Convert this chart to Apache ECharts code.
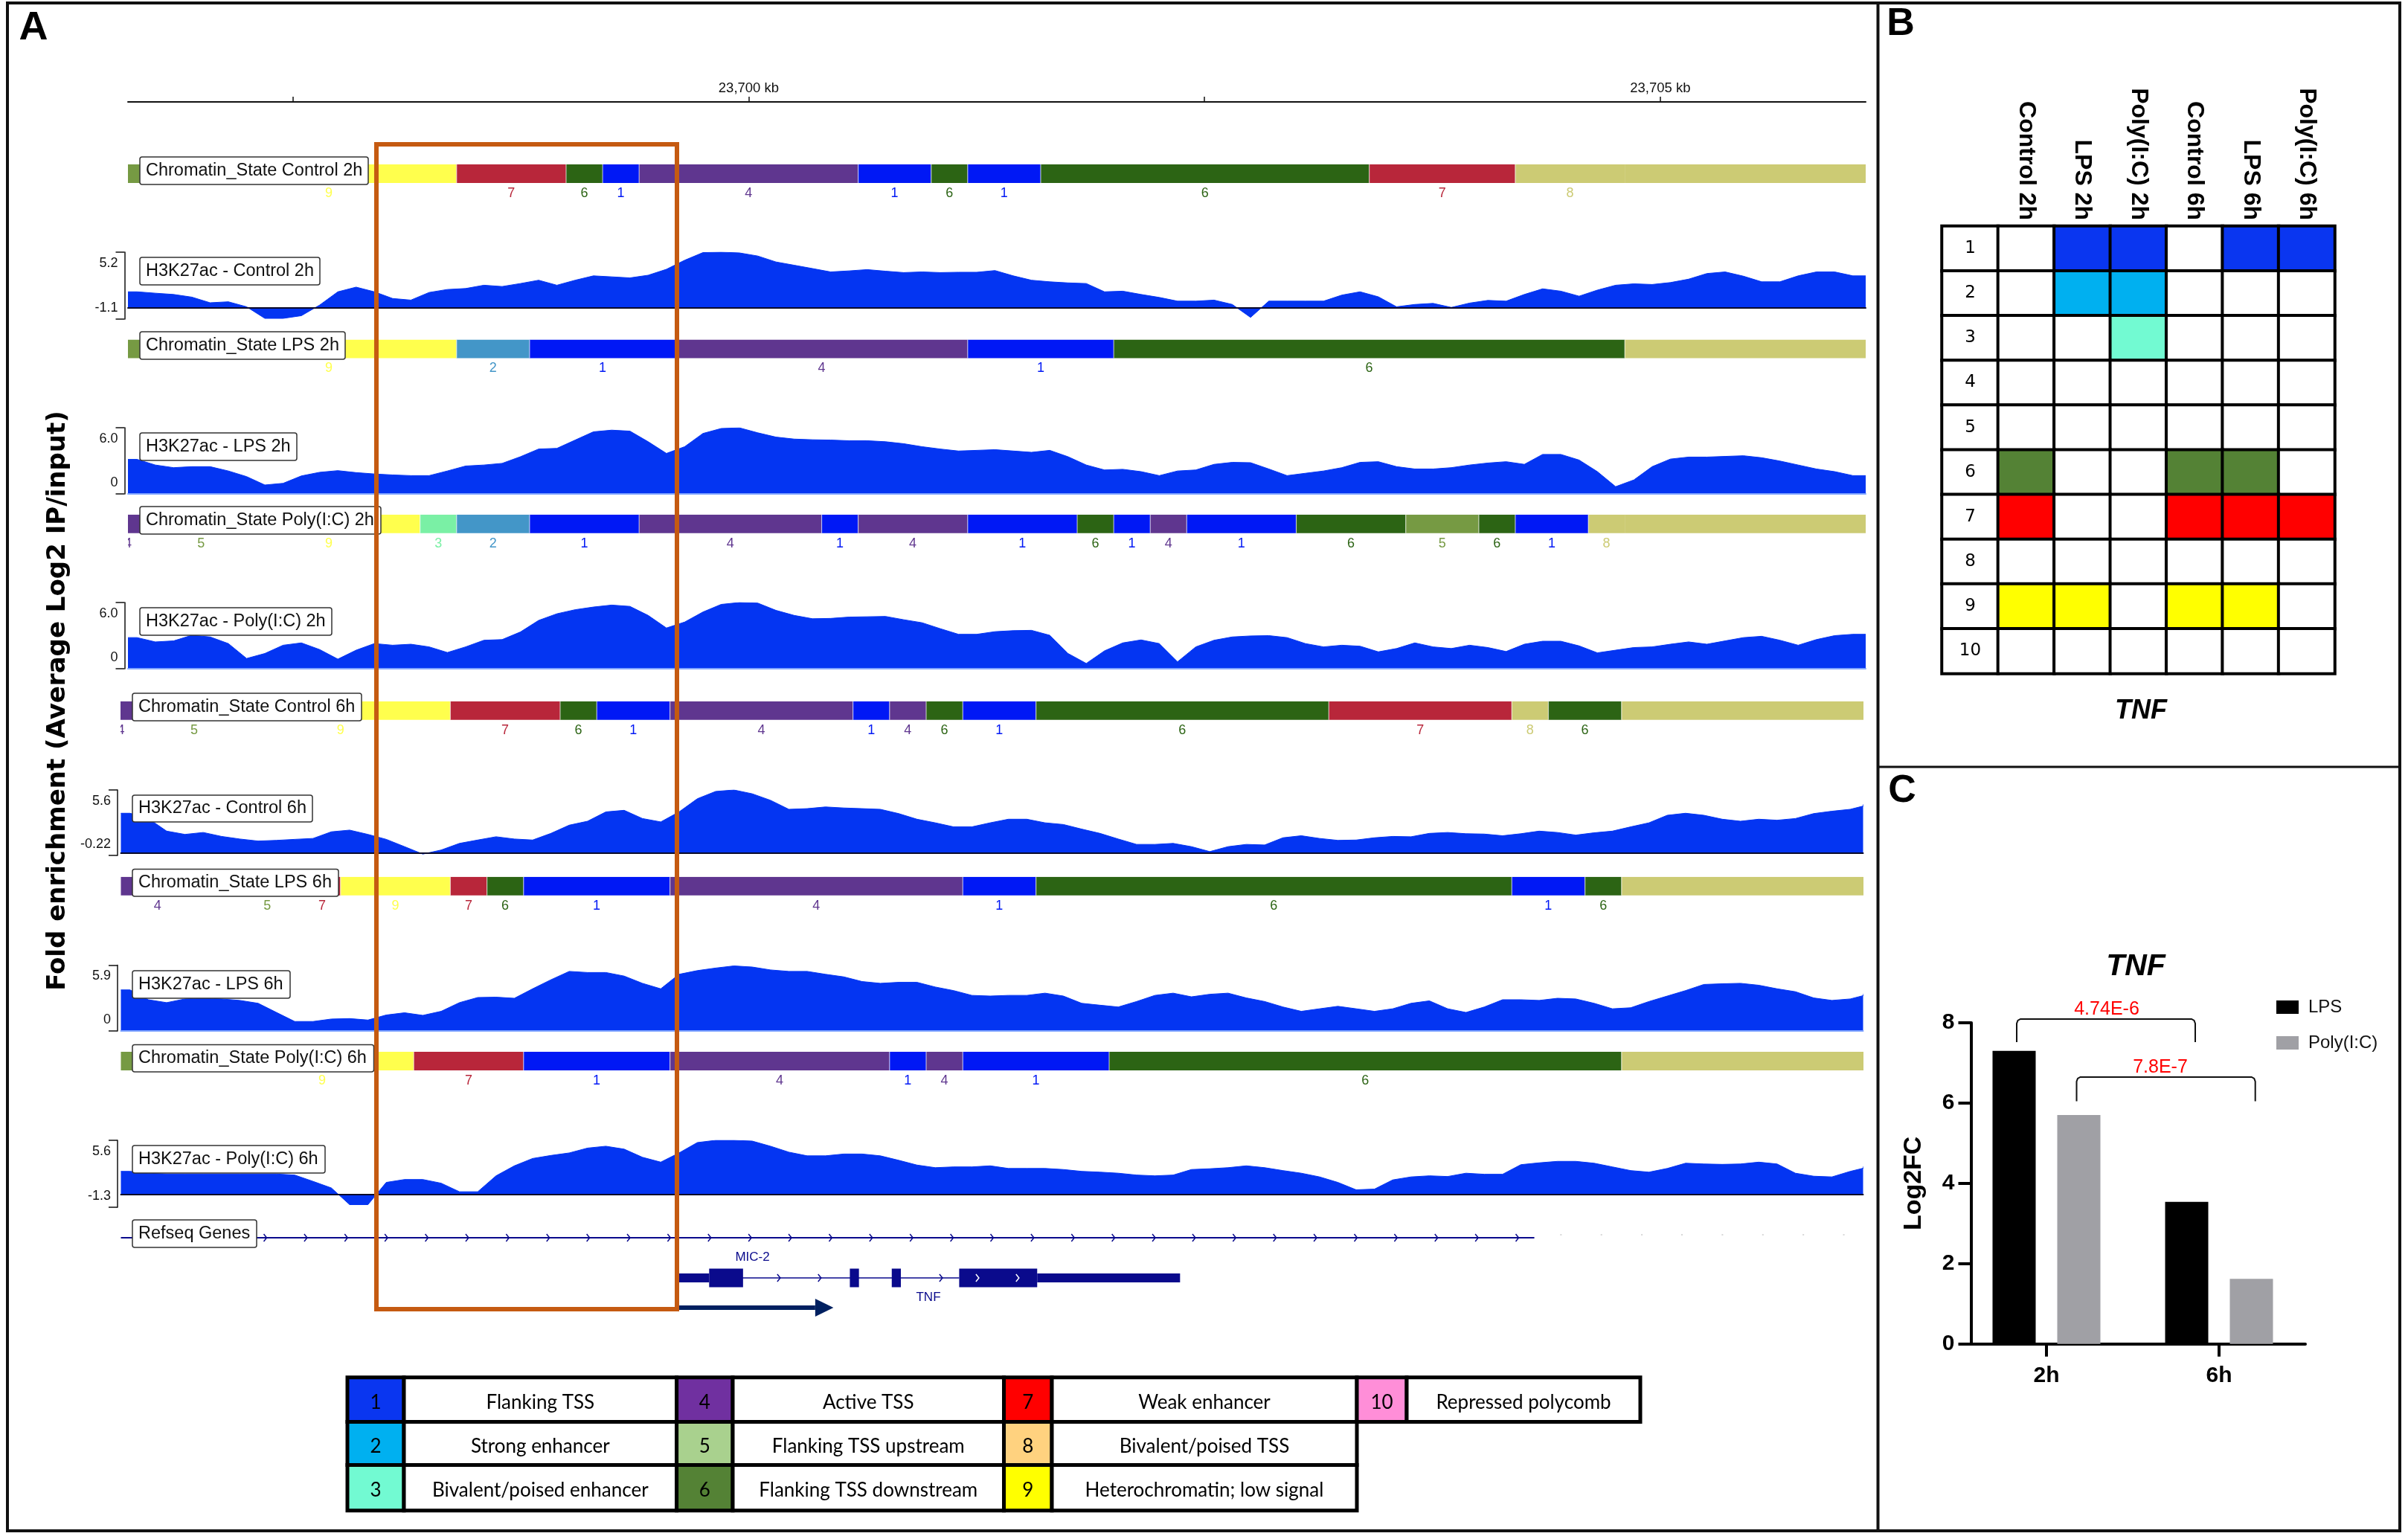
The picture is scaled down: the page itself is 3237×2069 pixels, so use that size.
<!DOCTYPE html>
<html>
<head>
<meta charset="utf-8">
<title>TNF chromatin states</title>
<script src="https://cdn.jsdelivr.net/npm/echarts@6/dist/echarts.min.js"></script>
<style>
html, body { margin: 0; padding: 0; background: #fff; }
#main { width: 3237px; height: 2069px; }
</style>
</head>
<body>
<div id="main"></div>
<script>
// chromatin state segments: [state, start bin, end bin, has label]   (bin = 200 bp)
var stateControl2h = [[5,0,2,0],[9,2,9,1],[7,9,12,1],[6,12,13,1],[1,13,14,1],[4,14,20,1],[1,20,22,1],[6,22,23,1],[1,23,25,1],[6,25,34,1],[7,34,38,1],[8,38,41,1],[8,41,48,0]];
var stateLps2h = [[5,0,2,0],[9,2,9,1],[2,9,11,1],[1,11,15,1],[4,15,23,1],[1,23,27,1],[6,27,41,1],[8,41,48,0]];
var statePoly2h = [[4,-1,1,1],[5,1,3,1],[9,3,8,1],[3,8,9,1],[2,9,11,1],[1,11,14,1],[4,14,19,1],[1,19,20,1],[4,20,23,1],[1,23,26,1],[6,26,27,1],[1,27,28,1],[4,28,29,1],[1,29,32,1],[6,32,35,1],[5,35,37,1],[6,37,38,1],[1,38,40,1],[8,40,41,1],[8,41,48,0]];
var stateControl6h = [[4,-1,1,1],[5,1,3,1],[9,3,9,1],[7,9,12,1],[6,12,13,1],[1,13,15,1],[4,15,20,1],[1,20,21,1],[4,21,22,1],[6,22,23,1],[1,23,25,1],[6,25,33,1],[7,33,38,1],[8,38,39,1],[6,39,41,1],[8,41,48,0]];
var stateLps6h = [[4,0,2,1],[4,2,3,0],[5,3,5,1],[7,5,6,1],[9,6,9,1],[7,9,10,1],[6,10,11,1],[1,11,15,1],[4,15,23,1],[1,23,25,1],[6,25,38,1],[1,38,40,1],[6,40,41,1],[8,41,48,0]];
var statePoly6h = [[5,0,3,0],[9,3,8,1],[7,8,11,1],[1,11,15,1],[4,15,21,1],[1,21,22,1],[4,22,23,1],[1,23,27,1],[6,27,41,1],[8,41,48,0]];

// H3K27ac signal, one value per 100 bp
var signalControl2h = [1.47,1.34,1.22,.97,.44,.53,.06,-1.03,-1.03,-.78,.22,1.47,1.91,1.47,.84,.69,1.41,1.69,1.78,2.09,1.97,2.25,2.56,2.09,2.56,2.97,2.88,2.78,3.03,3.59,4.44,5.16,5.2,5.13,4.84,4.28,3.97,3.66,3.34,3.44,3.56,3.41,3.28,3.34,3.28,3.31,3.31,3.47,2.97,2.56,2.41,2.31,2.25,1.47,1.53,1.22,.94,.59,.59,.69,.28,-.94,.59,.59,.59,.59,1.16,1.47,1,.06,.28,.38,0,.41,.66,.59,1.22,1.75,1.53,1.06,1.63,2.09,2.22,2.16,2.34,2.66,3.19,3.34,2.94,2.41,2.41,2.97,3.34,3.34,2.97];
var signalLps2h = [3.13,2.62,2.38,2.47,2.47,2.08,1.57,.81,.96,1.63,1.96,2.11,1.93,1.81,1.72,1.66,1.66,2.08,2.53,2.62,2.77,3.37,4.07,4.13,4.88,5.63,5.78,5.69,4.73,3.67,4.28,5.48,5.93,5.99,5.54,5.15,4.97,4.91,4.88,4.82,4.82,4.73,4.55,4.28,4.07,3.89,3.95,4.01,3.89,3.77,3.95,3.37,2.62,2.17,2.23,2.02,1.66,2.08,2.17,2.68,2.86,2.83,2.26,1.66,1.87,2.08,2.38,2.86,2.92,2.47,2.26,2.26,2.38,2.62,2.8,2.92,2.68,3.58,3.58,3.07,2.02,.66,1.27,2.47,3.16,3.34,3.34,3.4,3.46,3.28,2.98,2.62,2.26,2.02,1.66];
var signalPoly2h = [2.82,2.43,2.52,3.03,2.88,2.28,.93,1.38,2.13,2.34,1.74,.87,1.68,2.28,2.13,2.22,1.98,1.47,1.98,2.58,2.64,3.33,4.38,4.98,5.35,5.59,5.77,5.65,4.83,3.69,4.23,5.14,5.83,6,5.95,5.29,4.83,4.53,4.56,4.68,4.71,4.74,4.44,4.17,3.63,3.12,3.12,3.36,3.45,3.48,3.03,1.38,.48,1.62,2.34,2.61,2.28,.63,1.98,2.58,2.88,2.97,3,2.82,2.28,1.98,2.13,2.04,1.53,1.83,2.34,1.98,1.83,2.13,1.92,1.56,2.22,2.49,2.49,2.07,1.44,1.68,1.92,1.98,2.22,2.43,2.22,2.52,2.82,2.94,2.58,2.13,2.64,3,3.12];
var signalControl6h = [3.53,3.06,1.94,1.65,1.82,1.47,1.24,1.06,1.12,1.21,1.29,1.88,2.03,1.65,1.21,.56,-.1,.26,.85,1.15,1.44,1.24,1.15,1.74,2.47,2.82,3.65,3.79,3.06,2.76,3.65,4.82,5.47,5.6,5.26,4.68,3.88,3.94,4.09,4,3.94,3.88,3.5,3,2.68,2.32,2.32,2.68,3,3,2.68,2.53,2.12,1.74,1.24,.76,.76,.85,.56,.12,.56,.76,.71,1.35,1.53,1.29,1.12,1.15,1.35,1.47,1.44,1.74,1.82,1.71,1.68,1.53,1.71,1.94,1.82,1.59,1.79,1.94,2.32,2.68,3.35,3.53,3.35,3,2.82,3,2.91,3.06,3.5,3.71,3.88,4.29];
var signalLps6h = [3.68,2.8,2.54,2.87,2.96,2.87,2.74,2.48,1.66,.85,.85,1.07,1.11,.98,1.43,1.63,1.4,1.76,2.54,3,3.03,2.93,3.78,4.59,5.34,5.24,5.24,4.92,4.27,3.78,5.08,5.41,5.64,5.83,5.73,5.47,5.34,5.34,5.08,4.85,4.43,4.27,4.36,4.36,3.94,3.62,3.19,3.13,3.19,3.19,3.39,3.13,2.48,2.31,2.15,2.64,3.19,3.39,3.06,3.29,3.39,2.96,2.64,2.15,1.76,1.99,2.21,1.99,1.76,1.99,2.48,2.7,1.99,1.66,2.15,2.8,2.8,2.74,2.93,2.87,2.48,1.99,2.08,2.64,3.13,3.62,4.17,4.23,4.27,4.1,3.78,3.52,2.96,2.74,2.87,3.29];
var signalPoly6h = [2.4,2.21,2.13,2.13,2.13,2.13,2.13,2.13,2.13,2.02,1.37,.69,-1.03,-1.03,1.26,1.56,1.56,1.18,.3,.3,1.94,2.97,3.73,4.04,4.3,4.8,4.99,4.69,3.85,3.35,4.3,5.37,5.6,5.6,5.52,4.99,4.38,4,4,4.19,4.19,4,3.54,3.05,2.78,2.86,2.86,2.97,2.7,2.7,2.7,2.59,2.4,2.32,2.21,2.02,1.94,2.02,2.59,2.67,2.78,2.97,2.78,2.48,2.21,1.83,1.26,.5,.57,1.52,1.83,1.94,1.87,2.21,2.1,2.1,3.09,3.28,3.43,3.43,3.24,2.86,2.48,2.32,2.7,3.24,3.16,3.12,3.16,3.35,3.16,2.21,1.9,1.83,2.4,2.86];

var rulerTicks = [23697.5, 23700, 23702.5, 23705];

// gene models, in bins
var mic2Thin = [[15.3,16.14],[25.14,29.06]];
var mic2Thick = [[16.14,17.07],[20,20.25],[21.15,21.4],[23,25.14]];
var mic2Arrows = [18.05,19.17,22.5];
var mic2ExonArrows = [23.5,24.6];
var refseqEnd = 38.78;
var refseqArrows = [3.96,5.07,6.18,7.28,8.39,9.5,10.61,11.72,12.82,13.93,15.04,16.15,17.26,18.36,19.47,20.58,21.69,22.8,23.9,25.01,26.12,27.23,28.34,29.44,30.55,31.66,32.77,33.88,34.98,36.09,37.2,38.31];
var refseqFaint = [39.49,40.6,41.71,42.81,43.92,45.03,46.14,47.25];

// legend
var legendNames = ['Flanking TSS','Strong enhancer','Bivalent/poised enhancer','Active TSS','Flanking TSS upstream','Flanking TSS downstream','Weak enhancer','Bivalent/poised TSS','Heterochromatin; low signal','Repressed polycomb'];

// panel B
var heatSamples = ['Control 2h','LPS 2h','Poly(I:C) 2h','Control 6h','LPS 6h','Poly(I:C) 6h'];
var heatRows = ['1','2','3','4','5','6','7','8','9','10'];
var heatControl2h = [6,7,9];
var heatLps2h = [1,2,9];
var heatPoly2h = [1,2,3];
var heatControl6h = [6,7,9];
var heatLps6h = [1,6,7,9];
var heatPoly6h = [1,7];

// panel C
var barCategories = ['2h','6h'];
var barLps = [7.3,3.54];
var barPoly = [5.7,1.62];

var trackColors = {1:'#0018f5',2:'#4396c8',3:'#7af0a5',4:'#5f368f',5:'#769a43',6:'#2c6414',7:'#b8263a',8:'#cccb74',9:'#ffff4d'};
var legendColors = {1:'#0a36f0',2:'#00b0f0',3:'#72fad2',4:'#7030a0',5:'#a9d18e',6:'#548235',7:'#ff0000',8:'#ffd27f',9:'#ffff00',10:'#ff8ed8'};
var SIGNAL = '#0435f2';
var ARIAL = '"Liberation Sans", Arial, sans-serif';
var NAVY = '#0a0a8c';
var MAX_BIN = 47.6;

var grids = [], xAxes = [], yAxes = [], seriesList = [], shapes = [];

function addGrid(grid, xAxis, yAxis) {
    var i = grids.length;
    grids.push(grid);
    xAxis.gridIndex = i;
    yAxis.gridIndex = i;
    xAxes.push(xAxis);
    yAxes.push(yAxis);
    return i;
}

function hiddenAxis(min, max) {
    return {type: 'value', min: min, max: max, show: false};
}

function addStateTrack(segs, left, top, w) {
    var idx = addGrid({left: left, top: top, width: w, height: 50}, hiddenAxis(0, MAX_BIN), hiddenAxis(0, 1));
    seriesList.push({
        type: 'custom',
        xAxisIndex: idx,
        yAxisIndex: idx,
        clip: true,
        silent: true,
        animation: false,
        data: segs,
        renderItem: function (params, api) {
            var x0 = api.coord([api.value(1), 0])[0];
            var x1 = api.coord([api.value(2), 0])[0];
            var st = api.value(0);
            var kids = [{type: 'rect', shape: {x: x0, y: top, width: x1 - x0, height: 25}, style: {fill: trackColors[st]}}];
            var prev = segs[params.dataIndex - 1];
            if (prev && prev[0] !== st) {
                kids.push({type: 'rect', shape: {x: x0 - 0.5, y: top, width: 1.2, height: 25}, style: {fill: 'rgba(255,255,255,0.6)'}});
            }
            if (api.value(3)) {
                kids.push({type: 'text', style: {text: String(st), x: (x0 + x1) / 2, y: top + 39, fill: trackColors[st], font: '18px ' + ARIAL, textAlign: 'center', textVerticalAlign: 'middle'}});
            }
            return {type: 'group', children: kids};
        }
    });
}

function addSignalTrack(vals, left, top, bottom, lo, hi, loText, hiText, baseColor, w) {
    var idx = addGrid(
        {left: left, top: top, width: w, height: bottom - top},
        {type: 'value', min: 0, max: MAX_BIN, z: 5,
            axisLine: {show: true, onZero: true, lineStyle: {color: baseColor, width: 2}},
            axisTick: {show: false}, axisLabel: {show: false}, splitLine: {show: false}},
        {type: 'value', min: lo, max: hi, offset: 4.5,
            axisLine: {show: true, onZero: false, lineStyle: {color: '#111', width: 1.5}},
            axisTick: {show: true, length: 12, customValues: [lo, hi], lineStyle: {color: '#111', width: 1.5}},
            axisLabel: {show: true, customValues: [lo, hi], margin: 9, fontSize: 18, fontFamily: ARIAL, color: '#111', lineHeight: 30,
                verticalAlignMinLabel: 'bottom', verticalAlignMaxLabel: 'top',
                formatter: function (v) { return v === hi ? hiText : loText; }},
            splitLine: {show: false}}
    );
    // each value sits at the middle of its 100 bp window, the ends run out to the track edges
    var pts = [[0, vals[0]]];
    vals.forEach(function (v, i) { pts.push([(i + 0.5) / 2, v]); });
    pts.push([MAX_BIN, vals[vals.length - 1]]);
    seriesList.push({
        type: 'line', xAxisIndex: idx, yAxisIndex: idx, symbol: 'none', silent: true, animation: false,
        lineStyle: {color: SIGNAL, width: 1}, areaStyle: {color: SIGNAL, opacity: 1}, data: pts
    });
}

function boxLabel(text, x0, x1, y0, y1) {
    shapes.push({type: 'rect', z: 50, shape: {x: x0, y: y0, width: x1 - x0, height: y1 - y0, r: 3}, style: {fill: '#fff', stroke: '#333', lineWidth: 1.5}});
    shapes.push({type: 'text', z: 51, x: x0 + 8, y: (y0 + y1) / 2, style: {text: text, fill: '#111', font: '23.5px ' + ARIAL, align: 'left', verticalAlign: 'middle'}});
}

function plainText(text, x, y, font, fill, rotation) {
    shapes.push({type: 'text', z: 60, x: x, y: y, rotation: rotation || 0, style: {text: text, fill: fill || '#000', font: font, align: 'center', verticalAlign: 'middle'}});
}

function outline(x, y, w, h, color, lineWidth, z) {
    shapes.push({type: 'rect', z: z || 40, shape: {x: x, y: y, width: w, height: h}, style: {fill: 'none', stroke: color, lineWidth: lineWidth}});
}

function bracket(x0, x1, y, legY) {
    shapes.push({type: 'polyline', z: 45, shape: {points: [[x0, legY], [x0, y + 6], [x0 + 1.5, y + 2], [x0 + 5, y], [x1 - 5, y], [x1 - 1.5, y + 2], [x1, y + 6], [x1, legY]]}, style: {fill: 'none', stroke: '#111', lineWidth: 2}});
}

// ---- panel A ----
var rulerIdx = addGrid({left: 172, top: 137, width: 2336, height: 1},
    {type: 'value', position: 'top', min: 23696.595, max: 23706.127,
        axisLine: {show: true, onZero: false, lineStyle: {color: '#111', width: 2}},
        axisTick: {show: true, length: 7, customValues: rulerTicks, lineStyle: {color: '#111', width: 1.5}},
        axisLabel: {show: true, customValues: [23700, 23705], margin: 9, fontSize: 18.5, fontFamily: ARIAL, color: '#111',
            formatter: function (v) { return v === 23700 ? '23,700 kb' : '23,705 kb'; }},
        splitLine: {show: false}},
    hiddenAxis(0, 1));
seriesList.push({type: 'line', xAxisIndex: rulerIdx, yAxisIndex: rulerIdx, data: [], silent: true});

addStateTrack(stateControl2h, 172, 221, 2336);
addSignalTrack(signalControl2h, 172, 339, 429, -1.1, 5.2, '-1.1', '5.2', '#0a0a2a', 2336);
addStateTrack(stateLps2h, 172, 456.5, 2336);
addSignalTrack(signalLps2h, 172, 575, 664, 0, 6, '0', '6.0', '#7fa4ff', 2336);
addStateTrack(statePoly2h, 172, 691.7, 2336);
addSignalTrack(signalPoly2h, 172, 810, 899, 0, 6, '0', '6.0', '#7fa4ff', 2336);
addStateTrack(stateControl6h, 162.5, 942.8, 2342);
addSignalTrack(signalControl6h, 162.5, 1062, 1150, -0.22, 5.6, '-0.22', '5.6', '#0a0a2a', 2342);
addStateTrack(stateLps6h, 162.5, 1178.8, 2342);
addSignalTrack(signalLps6h, 162.5, 1297.5, 1386, 0, 5.9, '0', '5.9', '#7fa4ff', 2342);
addStateTrack(statePoly6h, 162.5, 1414, 2342);
addSignalTrack(signalPoly6h, 162.5, 1533, 1623, -1.3, 5.6, '-1.3', '5.6', '#0a0a2a', 2342);

// gene track
var geneY = 1718, refY = 1664;
var geneIdx = addGrid({left: 162.5, top: 1640, width: 2342, height: 130}, hiddenAxis(0, 47.8), hiddenAxis(0, 1));
seriesList.push({
    type: 'custom', xAxisIndex: geneIdx, yAxisIndex: geneIdx, clip: false, silent: true, animation: false,
    data: [[0]],
    renderItem: function (params, api) {
        function X(b) { return api.coord([b, 0])[0]; }
        function chevron(b, y, color) {
            var x = X(b);
            return {type: 'polyline', shape: {points: [[x - 2, y - 5], [x + 2, y], [x - 2, y + 5]]}, style: {fill: 'none', stroke: color, lineWidth: 1.5}};
        }
        var kids = [];
        kids.push({type: 'line', shape: {x1: X(0), y1: refY, x2: X(refseqEnd), y2: refY}, style: {stroke: NAVY, lineWidth: 2}});
        refseqArrows.forEach(function (b) { kids.push(chevron(b, refY, NAVY)); });
        refseqFaint.forEach(function (b) {
            kids.push({type: 'rect', shape: {x: X(b), y: refY - 5, width: 2, height: 2}, style: {fill: '#d8d8d8'}});
        });
        kids.push({type: 'line', shape: {x1: X(17), y1: geneY, x2: X(23), y2: geneY}, style: {stroke: NAVY, lineWidth: 1.5}});
        mic2Thin.forEach(function (s) {
            kids.push({type: 'rect', shape: {x: X(s[0]), y: geneY - 6, width: X(s[1]) - X(s[0]), height: 12}, style: {fill: NAVY}});
        });
        mic2Thick.forEach(function (s) {
            kids.push({type: 'rect', shape: {x: X(s[0]), y: geneY - 12.5, width: X(s[1]) - X(s[0]), height: 25}, style: {fill: NAVY}});
        });
        mic2Arrows.forEach(function (b) { kids.push(chevron(b, geneY, NAVY)); });
        mic2ExonArrows.forEach(function (b) { kids.push(chevron(b, geneY, '#fff')); });
        // transcription arrow
        var ax0 = X(15.3), ax1 = X(19.05), ah = X(19.55);
        kids.push({type: 'rect', shape: {x: ax0, y: 1755, width: ax1 - ax0, height: 6}, style: {fill: '#002060'}});
        kids.push({type: 'polygon', shape: {points: [[ax1, 1746], [ah, 1758], [ax1, 1770]]}, style: {fill: '#002060'}});
        return {type: 'group', children: kids};
    }
});
plainText('MIC-2', 1011.6, 1690, '17px ' + ARIAL, NAVY);
plainText('TNF', 1248, 1744, '17px ' + ARIAL, NAVY);

boxLabel('Chromatin_State Control 2h', 188, 495, 211, 248);
boxLabel('H3K27ac - Control 2h', 188, 430, 346, 383);
boxLabel('Chromatin_State LPS 2h', 188, 464, 446, 483);
boxLabel('H3K27ac - LPS 2h', 188, 399, 582, 619);
boxLabel('Chromatin_State Poly(I:C) 2h', 188, 512, 681, 718);
boxLabel('H3K27ac - Poly(I:C) 2h', 188, 446, 817, 854);
boxLabel('Chromatin_State Control 6h', 178, 486, 932, 969);
boxLabel('H3K27ac - Control 6h', 178, 420, 1069, 1105);
boxLabel('Chromatin_State LPS 6h', 178, 455, 1168.5, 1205);
boxLabel('H3K27ac - LPS 6h', 178, 390, 1305, 1342);
boxLabel('Chromatin_State Poly(I:C) 6h', 178, 502.5, 1404.5, 1441);
boxLabel('H3K27ac - Poly(I:C) 6h', 178, 437, 1540, 1577);
boxLabel('Refseq Genes', 178, 345, 1640, 1677);

outline(506, 194, 404, 1566, '#c55a11', 6, 70);
plainText('Fold enrichment (Average Log2 IP/input)', 78, 942, 'bold 34px "DejaVu Sans"', '#000', Math.PI / 2);

// state legend table
var tableCols = [[467,543,909.6],[909.6,985,1349.5],[1349.5,1414,1824],[1824,1891,2205]];
var tableRows = [1851.7,1911.6,1969.5,2030.7];
legendNames.forEach(function (name, i) {
    var c = tableCols[Math.min(Math.floor(i / 3), 3)];
    var row = i === 9 ? 0 : i % 3;
    var y0 = tableRows[row], y1 = tableRows[row + 1];
    shapes.push({type: 'rect', z: 30, shape: {x: c[0], y: y0, width: c[1] - c[0], height: y1 - y0}, style: {fill: legendColors[i + 1], stroke: '#000', lineWidth: 5}});
    shapes.push({type: 'rect', z: 30, shape: {x: c[1], y: y0, width: c[2] - c[1], height: y1 - y0}, style: {fill: '#fff', stroke: '#000', lineWidth: 5}});
    plainText(String(i + 1), (c[0] + c[1]) / 2, (y0 + y1) / 2 + 4, '26px Lato', '#000');
    plainText(name, (c[1] + c[2]) / 2, (y0 + y1) / 2 + 4, '26px Lato', '#000');
});

// ---- panel B ----
var heatLists = [heatControl2h, heatLps2h, heatPoly2h, heatControl6h, heatLps6h, heatPoly6h];
var heatData = [];
heatRows.forEach(function (r, y) {
    heatData.push({value: [0, y, 0], itemStyle: {color: '#fff'}});
    heatLists.forEach(function (list, x) {
        var st = y + 1;
        var on = list.indexOf(st) >= 0;
        heatData.push({value: [x + 1, y, on ? 1 : 0], itemStyle: {color: on ? legendColors[st] : '#fff'}});
    });
});
var heatIdx = addGrid({left: 2610.5, top: 304, width: 528, height: 601.4},
    {type: 'category', position: 'top', data: [''].concat(heatSamples),
        axisLine: {show: false}, axisTick: {show: false}, splitLine: {show: false},
        axisLabel: {rotate: 90, interval: 0, margin: 8, fontSize: 32, fontWeight: 'bold', fontFamily: ARIAL, color: '#000'}},
    {type: 'category', inverse: true, data: heatRows, z: 10,
        axisLine: {show: false}, axisTick: {show: false}, splitLine: {show: false},
        axisLabel: {inside: true, margin: 38, align: 'center', fontSize: 23, fontFamily: '"DejaVu Sans"', color: '#000'}});
seriesList.push({type: 'heatmap', xAxisIndex: heatIdx, yAxisIndex: heatIdx, silent: true, animation: false,
    itemStyle: {borderColor: '#000', borderWidth: 4}, data: heatData});
plainText('TNF', 2878, 956, 'italic bold 36px ' + ARIAL, '#000');

// ---- panel C ----
var barIdx = addGrid({left: 2635, top: 1375, width: 464, height: 431.7},
    {type: 'category', data: barCategories,
        axisLine: {show: true, lineStyle: {color: '#000', width: 4}},
        axisTick: {show: true, alignWithLabel: true, length: 17, lineStyle: {color: '#000', width: 4}},
        axisLabel: {margin: 28, fontSize: 30, fontWeight: 'bold', fontFamily: ARIAL, color: '#000'},
        splitLine: {show: false}},
    {type: 'value', min: 0, max: 8, interval: 2, offset: -14.5,
        name: 'Log2FC', nameLocation: 'middle', nameGap: 60, nameRotate: 90,
        nameTextStyle: {fontSize: 34, fontWeight: 'bold', fontFamily: ARIAL, color: '#000'},
        axisLine: {show: true, onZero: false, lineStyle: {color: '#000', width: 4}},
        axisTick: {show: true, length: 17, lineStyle: {color: '#000', width: 4}},
        axisLabel: {margin: 22, fontSize: 30, fontWeight: 'bold', fontFamily: ARIAL, color: '#000'},
        splitLine: {show: false}});
seriesList.push({name: 'LPS', type: 'bar', xAxisIndex: barIdx, yAxisIndex: barIdx, barWidth: 58, barGap: '50%', silent: true, animation: false, itemStyle: {color: '#000'}, data: barLps});
seriesList.push({name: 'Poly(I:C)', type: 'bar', xAxisIndex: barIdx, yAxisIndex: barIdx, barWidth: 58, barGap: '50%', silent: true, animation: false, itemStyle: {color: '#a0a0a5'}, data: barPoly});
plainText('TNF', 2871, 1300, 'italic bold 41px ' + ARIAL, '#000');
bracket(2711, 2951, 1370, 1401);
plainText('4.74E-6', 2832, 1357, '25px ' + ARIAL, '#f00');
bracket(2791.5, 3031.7, 1448, 1480.6);
plainText('7.8E-7', 2904, 1435.5, '25px ' + ARIAL, '#f00');

// ---- frames and panel letters ----
outline(10, 4, 3216, 2054, '#111', 4);
shapes.push({type: 'rect', z: 40, shape: {x: 2522.5, y: 4, width: 4, height: 2054}, style: {fill: '#111'}});
shapes.push({type: 'rect', z: 40, shape: {x: 2524, y: 1029.5, width: 702, height: 3}, style: {fill: '#111'}});
plainText('A', 45, 38, 'bold 54px ' + ARIAL);
plainText('B', 2555, 33, 'bold 52px ' + ARIAL);
plainText('C', 2557, 1064, 'bold 52px ' + ARIAL);

var chart = echarts.init(document.getElementById('main'));
chart.setOption({
    backgroundColor: '#fff',
    animation: false,
    tooltip: {show: false},
    legend: {
        data: ['LPS', 'Poly(I:C)'], orient: 'vertical', left: 3055, top: 1337,
        itemWidth: 30, itemHeight: 18, itemGap: 24, icon: 'rect', selectedMode: false,
        textStyle: {fontSize: 24, fontFamily: ARIAL, color: '#111', padding: [0, 0, 0, 8]}
    },
    grid: grids,
    xAxis: xAxes,
    yAxis: yAxes,
    series: seriesList,
    graphic: {elements: shapes}
});
</script>
</body>
</html>
